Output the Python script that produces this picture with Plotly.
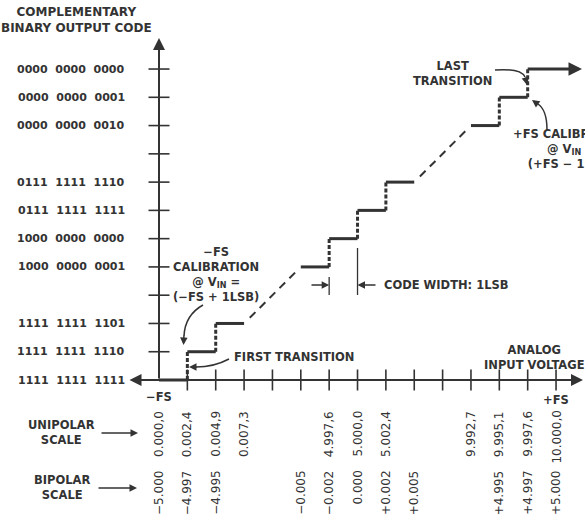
import plotly.graph_objects as go

# ---------------- data ----------------
# output code levels (0 = all ones, at the input axis) and their labels
code_levels = list(range(12))
code_labels = ["1111 1111 1111", "1111 1111 1110", "1111 1111 1101", "",
               "1000 0000 0001", "1000 0000 0000", "0111 1111 1111",
               "0111 1111 1110", "", "0000 0000 0010", "0000 0000 0001",
               "0000 0000 0000"]

# analog input positions in LSB steps (0 = -FS, 14 = +FS)
lsb_pos = list(range(15))
unipolar_labels = ["0.000,0", "0.002,4", "0.004,9", "0.007,3", "", "",
                   "4.997,6", "5.000,0", "5.002,4", "", "", "9.992,7",
                   "9.995,1", "9.997,6", "10.000,0"]
bipolar_labels = ["−5.000", "−4.997", "−4.995", "", "", "−0.005", "−0.002",
                  "0.000", "+0.002", "+0.005", "", "", "+4.995", "+4.997",
                  "+5.000"]

# staircase: each horizontal tread (code level, start LSB, end LSB)
step_level = [0, 1, 2, 4, 5, 6, 7, 9, 10, 11]
step_start = [0, 1, 2, 5, 6, 7, 8, 11, 12, 13]
step_end = [1, 2, 3, 6, 7, 8, 9, 12, 13, 14.6]

# ---------------- geometry helpers ----------------
W, H = 585, 517
X0_PX, DX = 159.0, 28.36
Y0_PX, DY = 380.0, 28.27
INK = "#333333"
FONT = "DejaVu Sans"


def px_x(px):
    return (px - X0_PX) / DX


def px_y(py):
    return (Y0_PX - py) / DY


fig = go.Figure()

# treads
hx, hy = [], []
for lv, s, e in zip(step_level, step_start, step_end):
    hx += [s, e, None]
    hy += [lv, lv, None]
fig.add_trace(go.Scatter(x=hx, y=hy, mode="lines",
                         line=dict(color=INK, width=3), hoverinfo="skip"))

# risers (dotted) and dashed connectors
rx, ry, cx, cy = [], [], [], []
for i in range(len(step_level) - 1):
    if step_start[i + 1] == step_end[i]:
        rx += [step_end[i], step_end[i], None]
        ry += [step_level[i], step_level[i + 1], None]
    else:
        x0, x1 = step_end[i], step_start[i + 1]
        y0, y1 = step_level[i], step_level[i + 1]
        f = 0.1
        cx += [x0 + (x1 - x0) * f, x1 - (x1 - x0) * f, None]
        cy += [y0 + (y1 - y0) * f, y1 - (y1 - y0) * f, None]
fig.add_trace(go.Scatter(x=rx, y=ry, mode="lines",
                         line=dict(color=INK, width=3, dash="4px,2px"),
                         hoverinfo="skip"))
fig.add_trace(go.Scatter(x=cx, y=cy, mode="lines",
                         line=dict(color=INK, width=2, dash="8px,6px"),
                         hoverinfo="skip"))

# axis tick marks
fig.add_trace(go.Scatter(x=lsb_pos[1:], y=[0] * (len(lsb_pos) - 1), mode="markers",
                         marker=dict(symbol="line-ns", size=15,
                                     line=dict(color=INK, width=1.6)),
                         hoverinfo="skip"))
fig.add_trace(go.Scatter(x=[0] * (len(code_levels) - 1), y=code_levels[1:],
                         mode="markers",
                         marker=dict(symbol="line-ew", size=15,
                                     line=dict(color=INK, width=1.6)),
                         hoverinfo="skip"))

ann = []


def text(x, y, t, size=11.5, xanchor="center", yanchor="middle", bold=True,
         angle=0):
    ann.append(dict(x=x, y=y, text=t, showarrow=False, xanchor=xanchor,
                    yanchor=yanchor, textangle=angle,
                    font=dict(family=FONT, size=size, color=INK,
                              weight="bold" if bold else "normal")))


def arrow(x, y, ax, ay, width=1.5, head=2, size=1.0, side="end"):
    ann.append(dict(x=x, y=y, ax=ax, ay=ay, axref="x", ayref="y", text="",
                    showarrow=True, arrowhead=head, arrowsize=size,
                    arrowwidth=width, arrowcolor=INK, arrowside=side,
                    startarrowhead=head, startarrowsize=size, standoff=0,
                    startstandoff=0))


# axes with arrowheads
arrow(0, px_y(38), 0, 0, width=2, head=2, size=1.2)
arrow(px_x(583), 0, px_x(128), 0, width=2, head=2, size=1.2, side="end+start")
# final tread arrowhead
arrow(px_x(582), step_level[-1], step_end[-1], step_level[-1], width=3,
      head=2, size=0.9)

# y tick labels
for lv, lab in zip(code_levels, code_labels):
    if lab:
        text(px_x(127), lv, lab.replace(" ", "\u00a0\u00a0"), size=11,
             xanchor="right")

# x tick labels (rotated)
for p, lab in zip(lsb_pos, unipolar_labels):
    if lab:
        text(p, px_y(409), lab, size=12, yanchor="top", bold=False, angle=-90)
for p, lab in zip(lsb_pos, bipolar_labels):
    if lab:
        text(p, px_y(469), lab, size=12, yanchor="top", bold=False, angle=-90)

text(0, px_y(397), "−FS")
text(14, px_y(400), "+FS")

# titles / notes
text(px_x(76), px_y(20), "COMPLEMENTARY<br>BINARY OUTPUT CODE", size=12)
text(px_x(534), px_y(357), "ANALOG<br>INPUT VOLTAGE")
text(px_x(61), px_y(432), "UNIPOLAR<br>SCALE")
text(px_x(62), px_y(487), "BIPOLAR<br>SCALE")
arrow(px_x(138), px_y(433), px_x(100), px_y(433), width=1.5, head=2)
arrow(px_x(137), px_y(488), px_x(97), px_y(488), width=1.5, head=2)

text(px_x(216), px_y(274), "−FS<br>CALIBRATION<br>@ V<sub>IN</sub> =<br>(−FS + 1LSB)")
text(px_x(232), px_y(357), "FIRST TRANSITION", xanchor="left")
text(px_x(452), px_y(73), "LAST<br>TRANSITION")
text(px_x(571), px_y(149), "+FS CALIBRATION<br>@ V<sub>IN</sub> =<br>(+FS − 1LSB)")
text(px_x(382), px_y(285), "CODE WIDTH: 1LSB", xanchor="left")

# code width markers
shapes = [
    dict(type="line", x0=6, x1=6, y0=px_y(277), y1=px_y(295),
         line=dict(color=INK, width=1.3)),
    dict(type="line", x0=7, x1=7, y0=px_y(248), y1=px_y(295),
         line=dict(color=INK, width=1.3)),
]
arrow(6, px_y(285), px_x(310), px_y(285), width=1.5, head=2)
arrow(7, px_y(285), px_x(377), px_y(285), width=1.5, head=2)


def curve(p0, c, p1):
    return dict(type="path",
                path=f"M{px_x(p0[0])},{px_y(p0[1])} Q{px_x(c[0])},{px_y(c[1])} "
                     f"{px_x(p1[0])},{px_y(p1[1])}",
                line=dict(color=INK, width=1.5))


shapes += [
    curve((203, 305), (185, 315), (184, 336)),
    curve((229, 359), (214, 367), (196, 367)),
    curve((495, 70), (521, 68), (525, 77)),
    curve((547, 130), (547, 110), (538, 104)),
]
arrow(px_x(183.5), px_y(345), px_x(184), px_y(334), width=1.5, head=2)
arrow(px_x(189), px_y(367), px_x(198), px_y(367), width=1.5, head=2)
arrow(px_x(527), px_y(85), px_x(525), px_y(76), width=1.5, head=2)
arrow(px_x(532), px_y(100), px_x(539), px_y(105), width=1.5, head=2)

fig.update_layout(
    width=W, height=H, margin=dict(l=0, r=0, t=0, b=0, pad=0),
    paper_bgcolor="white", plot_bgcolor="white", showlegend=False,
    xaxis=dict(range=[px_x(0), px_x(W)], visible=False, fixedrange=True),
    yaxis=dict(range=[px_y(H), px_y(0)], visible=False, fixedrange=True),
    annotations=ann, shapes=shapes,
)

fig.write_html("out.html", config={"displayModeBar": False},
               post_script="document.body.style.margin='0px';")
